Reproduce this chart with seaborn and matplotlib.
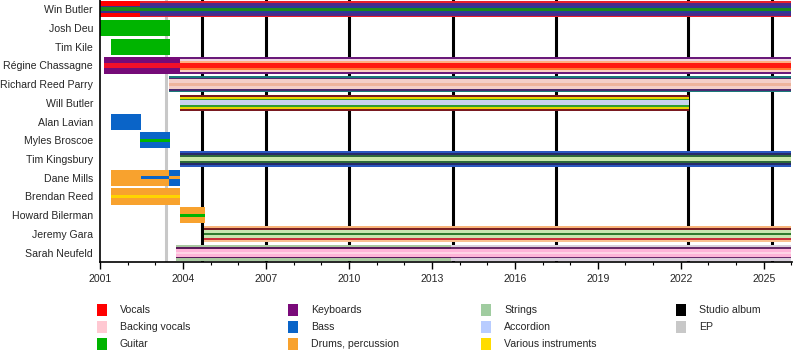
import matplotlib
matplotlib.use("Agg")
import matplotlib.pyplot as plt
from matplotlib.patches import Rectangle
import seaborn as sns

# ---------------- data ----------------
members = ["Win Butler", "Josh Deu", "Tim Kile", "Régine Chassagne", "Richard Reed Parry",
           "Will Butler", "Alan Lavian", "Myles Broscoe", "Tim Kingsbury", "Dane Mills",
           "Brendan Reed", "Howard Bilerman", "Jeremy Gara", "Sarah Neufeld"]

seg_member = ["Win Butler", "Win Butler", "Josh Deu", "Tim Kile", "Régine Chassagne",
              "Régine Chassagne", "Richard Reed Parry", "Will Butler", "Alan Lavian",
              "Myles Broscoe", "Tim Kingsbury", "Dane Mills", "Dane Mills", "Dane Mills",
              "Brendan Reed", "Howard Bilerman", "Jeremy Gara", "Sarah Neufeld", "Sarah Neufeld"]
seg_start = [2001.0, 2002.45, 2001.0, 2001.4, 2001.15, 2003.9, 2003.5, 2003.9, 2001.4,
             2002.45, 2003.9, 2001.4, 2002.5, 2003.5, 2001.4, 2003.9, 2004.75, 2003.75, 2013.7]
seg_end = [2002.45, 2026.0, 2003.53, 2003.53, 2003.9, 2026.0, 2026.0, 2022.3, 2002.5,
           2003.53, 2026.0, 2002.5, 2003.5, 2003.9, 2003.9, 2004.8, 2026.0, 2013.7, 2026.0]
seg_pattern = ["win_early", "win", "guitar", "guitar", "regine_early", "regine", "richard",
               "will", "bass", "myles", "kingsbury", "drums", "dane_mid", "dane_late",
               "brendan", "howard", "jeremy", "sarah_early", "sarah"]

studio_albums = [2004.7, 2007.0, 2010.0, 2013.75, 2017.48, 2022.25, 2025.28]
ep_releases = [2003.4]

legend_labels = ["Vocals", "Backing vocals", "Guitar", "Keyboards", "Bass", "Drums, percussion",
                 "Strings", "Accordion", "Various instruments", "Studio album", "EP"]

# ---------------- styles ----------------
legend_colors = ["#ff0000", "#ffc8d2", "#00b400", "#7a0a7a", "#0a64c8", "#f8a22e",
                 "#a0cca0", "#b8ccff", "#ffdc00", "#000000", "#c8c8c8"]

patterns = {
    "win_early": [("#ff0000", 2.2), ("#3a2f8a", 1), ("#1a8a1a", 2), ("#3a2f8a", 1), ("#ff0000", 2.2)],
    "win": [("#e8202a", 0.7), ("#4a2a8a", 1.6), ("#2a3a9a", 1.2), ("#1a8a1a", 1.6),
            ("#2a3a9a", 1.2), ("#4a2a8a", 1.6), ("#e8202a", 0.7)],
    "guitar": [("#00b400", 1)],
    "bass": [("#0a64c8", 1)],
    "drums": [("#f8a22e", 1)],
    "regine_early": [("#750a78", 3), ("#f0102a", 2.5), ("#750a78", 3)],
    "regine": [("#6a1a7a", 0.7), ("#f0d4e0", 1.1), ("#ffb080", 1.2), ("#ff1a10", 2.2),
               ("#ff7a30", 1.2), ("#f8d0c4", 1.1), ("#6a1a7a", 0.7)],
    "richard": [("#1a7a7a", 0.7), ("#4a2a70", 0.8), ("#f4cfc8", 1.6), ("#eeb49c", 1.6),
                ("#f4cfc8", 1.6), ("#4a2a70", 0.8), ("#1a7a7a", 0.7)],
    "will": [("#7a1a20", 0.8), ("#e8d400", 0.8), ("#2ea02e", 0.8), ("#c8d4ee", 2.2),
             ("#2ea02e", 0.8), ("#e8d400", 0.8), ("#7a1a20", 0.8)],
    "myles": [("#0a64c8", 2), ("#00b400", 1), ("#0a64c8", 2)],
    "kingsbury": [("#2a58c0", 0.8), ("#262a6a", 0.8), ("#2e6a3a", 0.8), ("#c8e8a8", 1.6),
                  ("#2e6a3a", 0.8), ("#262a6a", 0.8), ("#2a58c0", 0.8)],
    "dane_mid": [("#f8a22e", 2), ("#0a64c8", 1), ("#f8a22e", 2)],
    "dane_late": [("#0a64c8", 2), ("#f8a22e", 1), ("#0a64c8", 2)],
    "brendan": [("#f8a22e", 2), ("#ffd400", 1), ("#f8a22e", 2)],
    "howard": [("#f8a22e", 2), ("#00b400", 1), ("#f8a22e", 2)],
    "jeremy": [("#f8b47a", 0.7), ("#7a1f22", 0.8), ("#c8e6b0", 0.9), ("#2e7a2e", 0.9),
               ("#c8e6b0", 0.9), ("#c8303a", 0.8), ("#f8c090", 0.7)],
    "sarah_early": [("#a8c8a0", 1.2), ("#5a1a5a", 0.8), ("#ffb4d8", 1.3), ("#ffd4e6", 0.8),
                    ("#ffb4d8", 1.3), ("#5a1a5a", 0.6), ("#a8c8a0", 1.2)],
    "sarah": [("#d8d0dc", 1.0), ("#6a2a6a", 0.8), ("#ffb4d8", 1.3), ("#ffd4e6", 0.8),
              ("#ffb4d8", 1.3), ("#6a2a6a", 0.6), ("#d8d0dc", 1.0)],
}

# ---------------- figure ----------------
sns.set_theme(style="white")
plt.rcParams["font.family"] = ["Liberation Sans", "DejaVu Sans"]

fig = plt.figure(figsize=(8, 3.55), dpi=100)
ax = fig.add_axes([0.125, 0.262, 0.865, 0.738])

bar_h = 0.86
row_of = {m: i for i, m in enumerate(members)}

for x in studio_albums:
    ax.axvline(x, color="black", lw=2.2, zorder=1)
for x in ep_releases:
    ax.axvline(x, color="#c8c8c8", lw=2.2, zorder=1)

for m, s, e, p in zip(seg_member, seg_start, seg_end, seg_pattern):
    stripes = patterns[p]
    total = sum(w for _, w in stripes)
    y0 = row_of[m] - bar_h / 2
    for c, w in stripes:
        h = bar_h * w / total
        ax.barh(y0 + h / 2, e - s, left=s, height=h, color=c, linewidth=0, zorder=2)
        y0 += h

ax.set_ylim(len(members) - 0.5, -0.5)
ax.set_xlim(2001, 2026.02)
ax.set_yticks(range(len(members)))
ax.set_yticklabels(members, fontsize=7.6)
ax.set_xticks(range(2001, 2026, 3))
ax.set_xticklabels([str(y) for y in range(2001, 2026, 3)], fontsize=7.6)
ax.set_xticks(range(2001, 2027), minor=True)
ax.tick_params(axis="x", which="major", length=5, width=1, color="black", bottom=True, pad=4)
ax.tick_params(axis="x", which="minor", length=2.5, width=0.8, color="black", bottom=True)
ax.tick_params(axis="y", length=0, pad=5)
for side in ["top", "right"]:
    ax.spines[side].set_visible(False)
for side in ["left", "bottom"]:
    ax.spines[side].set_color("black")
    ax.spines[side].set_linewidth(1.2)
ax.grid(False)

# legend (4 columns x 3 rows)
col_x = [97, 288, 481, 676]
row_y = [310, 327, 344]
for i, (lab, col) in enumerate(zip(legend_labels, legend_colors)):
    cx = col_x[i // 3]
    ry = row_y[i % 3]
    fig.add_artist(Rectangle((cx / 800, 1 - (ry + 6) / 355), 10 / 800, 12 / 355,
                             transform=fig.transFigure, color=col, lw=0))
    fig.text((cx + 23) / 800, 1 - ry / 355, lab, fontsize=7.6, va="center", ha="left")

fig.savefig("out.png", dpi=100)
